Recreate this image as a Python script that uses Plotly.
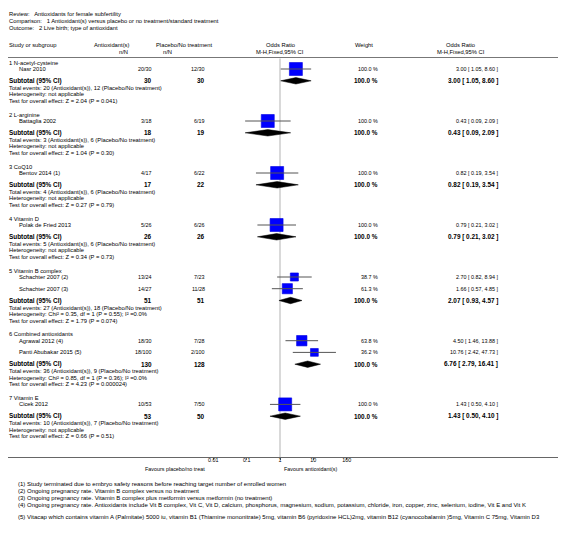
import math
import plotly.graph_objects as go

# Page is 566x553; the page adds an 8px left margin, so the figure is drawn 8px in.
PAGE_W, PAGE_H = 566, 553
OX, OY = 8, 0
FW, FH = PAGE_W - OX, PAGE_H - OY

# ---------------- data ----------------
title_lines = [
    "Review:   Antioxidants for female subfertility",
    "Comparison:   1 Antioxidant(s) versus placebo or no treatment/standard treatment",
    "Outcome:   2 Live birth; type of antioxidant",
]
groups = ["1 N-acetyl-cysteine", "2 L-arginine", "3 CoQ10", "4 Vitamin D",
          "5 Vitamin B complex", "6 Combined antioxidants", "7 Vitamin E"]
study_names = [["Nasr 2010"], ["Battaglia 2002"], ["Bentov 2014 (1)"], ["Polak de Fried 2013"],
               ["Schachter 2007 (2)", "Schachter 2007 (3)"],
               ["Agrawal 2012 (4)", "Panti Abubakar 2015 (5)"], ["Cicek 2012"]]
ev_trt = [[20], [3], [4], [5], [13, 14], [18, 18], [10]]
n_trt = [[30], [18], [17], [26], [24, 27], [30, 100], [53]]
ev_ctl = [[12], [6], [6], [6], [7, 11], [7, 2], [7]]
n_ctl = [[30], [19], [22], [26], [23, 28], [28, 100], [50]]
weights = [[100.0], [100.0], [100.0], [100.0], [38.7, 61.3], [63.8, 36.2], [100.0]]
study_or = [[3.00], [0.43], [0.82], [0.79], [2.70, 1.66], [4.50, 10.76], [1.43]]
study_lo = [[1.05], [0.09], [0.19], [0.21], [0.82, 0.57], [1.46, 2.42], [0.50]]
study_hi = [[8.60], [2.09], [3.54], [3.02], [8.94, 4.85], [13.88, 47.73], [4.10]]
sub_or = [3.00, 0.43, 0.82, 0.79, 2.07, 6.76, 1.43]
sub_lo = [1.05, 0.09, 0.19, 0.21, 0.93, 2.79, 0.50]
sub_hi = [8.60, 2.09, 3.54, 3.02, 4.57, 16.41, 4.10]
heterogeneity = ["not applicable", "not applicable", "not applicable", "not applicable",
                 "Chi\u00b2 = 0.35, df = 1 (P = 0.55); I\u00b2 =0.0%",
                 "Chi\u00b2 = 0.85, df = 1 (P = 0.36); I\u00b2 =0.0%",
                 "not applicable"]
overall = ["Z = 2.04 (P = 0.041)", "Z = 1.04 (P = 0.30)", "Z = 0.27 (P = 0.79)",
           "Z = 0.34 (P = 0.73)", "Z = 1.79 (P = 0.074)", "Z = 4.23 (P = 0.000024)",
           "Z = 0.66 (P = 0.51)"]
tick_vals = [0.01, 0.1, 1, 10, 100]
tick_text = ["0.01", "0.1", "1", "10", "100"]
favours_left = "Favours placebo/no treat"
favours_right = "Favours antioxidant(s)"
footnotes = [
    "(1) Study terminated due to embryo safety reasons before reaching target number of enrolled women",
    "(2) Ongoing pregnancy rate. Vitamin B complex versus no treatment",
    "(3) Ongoing pregnancy rate. Vitamin B complex plus metformin versus metformin (no treatment)",
    "(4) Ongoing pregnancy rate. Antioxidants include Vit B complex, Vit C, Vit D, calcium, phosphorus, magnesium, sodium, potassium, chloride, iron, copper, zinc, selenium, iodine, Vit E and Vit K",
    "(5) Vitacap which contains vitamin A (Palmitate) 5000 iu, vitamin B1 (Thiamine mononitrate) 5mg, vitamin B6 (pyridoxine HCL)2mg, vitamin B12 (cyanocobalamin )5mg, Vitamin C 75mg, Vitamin D3",
]

# ---------------- layout helpers ----------------
FONT = "Liberation Sans, Arial, sans-serif"
SMALL = 5.8
NUM = 5.4
BOLD = 6.4
AXIS_Y = 449          # page row of the bottom rule / axis
PX_DEC = 33.33        # pixels per decade
X_ONE = 280           # page x of OR = 1

fig = go.Figure()


def txt(px, py, s, anchor="left", size=SMALL, bold=False, color="#000"):
    if bold:
        s = "<b>" + s + "</b>"
    fig.add_annotation(x=(px - OX) / FW, y=1 - (py - OY) / FH, xref="paper", yref="paper",
                       text=s, showarrow=False, xanchor=anchor, yanchor="middle", borderpad=0,
                       font=dict(family=FONT, size=size, color=color))


def fmt_ci(o, l, h):
    return "%.2f [ %.2f, %.2f ]" % (o, l, h)


# title
for i, t in enumerate(title_lines):
    txt(8, 6.3 + i * 7, t)

# header
txt(8, 37.3, "Study or subgroup")
txt(131, 37.3, "Antioxidant(s)", anchor="right")
txt(129, 44.3, "n/N", anchor="right")
txt(155, 37.3, "Placebo/No treatment")
txt(173, 44.3, "n/N", anchor="right")
txt(280, 37.3, "Odds Ratio", anchor="center")
txt(280, 44.3, "M-H,Fixed,95% CI", anchor="center")
txt(364, 37.3, "Weight", anchor="center")
txt(461, 37.3, "Odds Ratio", anchor="center")
txt(461, 44.3, "M-H,Fixed,95% CI", anchor="center")

fig.add_shape(type="line", xref="paper", yref="y", x0=0, x1=1, y0=49.5, y1=49.5,
              line=dict(color="#777", width=1))

# rows
ci_x, ci_y = [], []
sq_x, sq_y, sq_s = [], [], []
dia_x, dia_y = [], []
ys = 61.0
for g in range(len(groups)):
    txt(8, ys - 6.3, groups[g])
    y = ys
    for k in range(len(study_names[g])):
        y = ys + k * 11.7
        txt(18, y, study_names[g][k])
        txt(153, y, "%d/%d" % (ev_trt[g][k], n_trt[g][k]), anchor="right", size=NUM)
        txt(206, y, "%d/%d" % (ev_ctl[g][k], n_ctl[g][k]), anchor="right", size=NUM)
        txt(379, y, "%.1f %%" % weights[g][k], anchor="right", size=NUM)
        txt(499, y, fmt_ci(study_or[g][k], study_lo[g][k], study_hi[g][k]), anchor="right", size=NUM)
        ci_x += [study_lo[g][k], study_hi[g][k], None]
        ci_y += [y, y, None]
        sq_x.append(study_or[g][k])
        sq_y.append(y)
        sq_s.append(13 * math.sqrt(weights[g][k] / 100.0))
    last = y
    sy = last + 11.8
    txt(8, sy, "Subtotal (95% CI)", size=BOLD, bold=True)
    txt(153, sy, "%d" % sum(n_trt[g]), anchor="right", size=BOLD, bold=True)
    txt(206, sy, "%d" % sum(n_ctl[g]), anchor="right", size=BOLD, bold=True)
    txt(379, sy, "100.0 %", anchor="right", size=BOLD, bold=True)
    txt(499, sy, fmt_ci(sub_or[g], sub_lo[g], sub_hi[g]), anchor="right", size=BOLD, bold=True)
    txt(8, sy + 7.0, "Total events: %d (Antioxidant(s)), %d (Placebo/No treatment)"
        % (sum(ev_trt[g]), sum(ev_ctl[g])))
    txt(8, sy + 13.5, "Heterogeneity: " + heterogeneity[g])
    txt(8, sy + 20.0, "Test for overall effect: " + overall[g])
    h = 3.2
    dia_x += [sub_lo[g], sub_or[g], sub_hi[g], sub_or[g], sub_lo[g], None]
    dia_y += [sy, sy - h, sy, sy + h, sy, None]
    ys = last + 52.0

# reference line at OR = 1
fig.add_trace(go.Scatter(x=[1, 1], y=[50.5, AXIS_Y], mode="lines",
                         line=dict(color="#d9d9d9", width=2), hoverinfo="skip"))
# squares
fig.add_trace(go.Scatter(x=sq_x, y=sq_y, mode="markers", opacity=1,
                         marker=dict(symbol="square", size=sq_s, color="#0000ff", opacity=1,
                                     line=dict(width=0.6, color="#0000e0")), hoverinfo="skip"))
# CI lines
fig.add_trace(go.Scatter(x=ci_x, y=ci_y, mode="lines",
                         line=dict(color="#555", width=1), hoverinfo="skip"))
# diamonds
fig.add_trace(go.Scatter(x=dia_x, y=dia_y, mode="lines", fill="toself",
                         fillcolor="#000", line=dict(color="#000", width=0.5),
                         hoverinfo="skip"))

# axis captions
txt(144, 460.5, favours_left, size=NUM)
txt(283, 460.5, favours_right, size=NUM)

# footnotes
for i, f in enumerate(footnotes):
    py = 476 + i * 7 if i < 4 else 509
    txt(17, py, f, size=6.0)

r0 = -(X_ONE - OX) / PX_DEC
r1 = (PAGE_W - X_ONE) / PX_DEC
fig.update_layout(
    width=FW, height=FH, margin=dict(l=0, r=0, t=0, b=0),
    paper_bgcolor="white", plot_bgcolor="white", showlegend=False,
    xaxis=dict(type="log", range=[r0, r1], domain=[0, 1],
               showgrid=False, zeroline=False, showline=True, linecolor="#666", linewidth=1,
               ticks="outside", ticklen=2, tickwidth=1, tickcolor="#666",
               ticklabelstandoff=-4,
               tickvals=tick_vals, ticktext=tick_text,
               tickfont=dict(family=FONT, size=NUM, color="#000"), fixedrange=True),
    yaxis=dict(range=[AXIS_Y, OY], domain=[1 - (AXIS_Y - OY) / FH, 1], visible=False,
               showgrid=False, zeroline=False, fixedrange=True),
)

fig.write_html("out.html")
